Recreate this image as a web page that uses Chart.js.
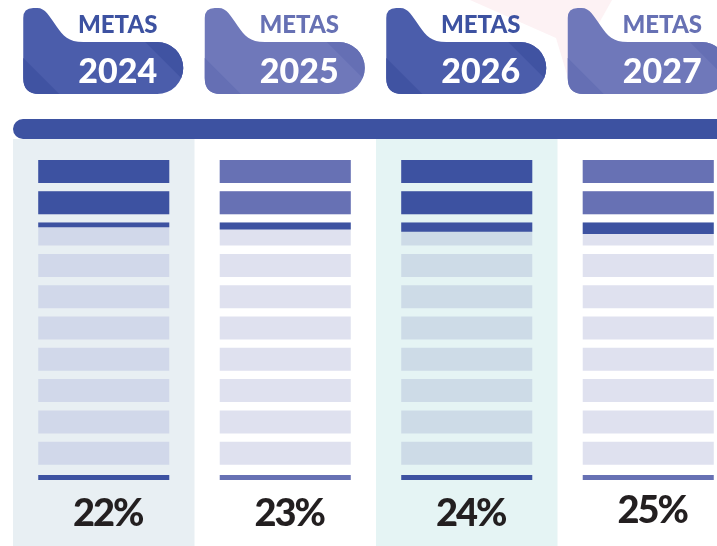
<!DOCTYPE html>
<html><head><meta charset="utf-8">
<script src="https://cdn.jsdelivr.net/npm/chart.js@4"></script>
<style>
html,body{margin:0;padding:0;background:#fff;overflow:hidden;width:717px;height:546px}
#wrap{position:relative;width:740px;height:546px}
canvas{display:block}
</style></head>
<body><div id="wrap"><canvas id="c" width="740" height="546"></canvas></div>
<script>
// ---- data ----
const years = ['2024', '2025', '2026', '2027'];
const tabTitles = ['METAS', 'METAS', 'METAS', 'METAS'];
const metas = [22, 23, 24, 25];            // target percentage per year
const segmentCount = 10;                   // gauge split into 10 blocks of 10 %
const segmentStep = 10;
const gaugeMax = 100;

// ---- styles ----
const dark = '#3d52a1', light = '#6771b4';
const colColor = [dark, light, dark, light];
const partialColor = dark;
const trackColor = ['#d1d8ea', '#dfe1ef', '#cddbe7', '#dfe1ef'];
const colBg = ['#e8eff3', null, '#e5f4f4', null];
const tabColor = ['#4b5dab', '#6f78ba', '#4b5dab', '#6f78ba'];
const tabShade = ['#4053a2', '#656fb4', '#4053a2', '#656fb4'];
const SEG_FILL = 7.35; // visible height of a block, in value units (gap is the rest)

// ---- datasets built from the data ----
const fillSets = [];
const trackSets = [];
for (let i = 0; i < segmentCount; i++) {
  const lo = i * segmentStep;
  fillSets.push({
    label: 'fill' + i,
    data: metas.map(v => {
      const f = Math.max(0, Math.min(1, (v - lo) / segmentStep));
      return f > 0 ? [lo, lo + f * SEG_FILL] : null;
    }),
    backgroundColor: metas.map((v, k) => ((v - lo) >= segmentStep ? colColor[k] : partialColor)),
    order: 0
  });
  trackSets.push({
    label: 'track' + i,
    data: metas.map(() => [lo, lo + SEG_FILL]),
    backgroundColor: trackColor,
    order: 2
  });
}
const baseLine = {
  label: 'base',
  data: metas.map(() => [gaugeMax + 0.6, gaugeMax + 2.2]),
  backgroundColor: colColor,
  order: 1
};

const decor = {
  id: 'decor',
  beforeDraw(chart) {
    const ctx = chart.ctx;
    ctx.save();
    ctx.fillStyle = '#ffffff';
    ctx.fillRect(0, 0, chart.width, chart.height);
    // faint background shape
    ctx.fillStyle = '#fdf2f4';
    ctx.beginPath();
    ctx.moveTo(470, 0); ctx.lineTo(612, 0); ctx.lineTo(568, 78); ctx.lineTo(556, 38);
    ctx.closePath(); ctx.fill();
    ctx.restore();
  },
  beforeDatasetsDraw(chart) {
    const ctx = chart.ctx;
    const xs = chart.scales.x;
    const cw = xs.width / years.length;
    ctx.save();
    // column backgrounds
    years.forEach((y, i) => {
      if (!colBg[i]) return;
      const cx = xs.getPixelForValue(i);
      ctx.fillStyle = colBg[i];
      ctx.fillRect(cx - cw / 2, 139, cw, chart.height - 139);
    });
    // header bar
    ctx.fillStyle = dark;
    ctx.beginPath();
    ctx.roundRect(xs.left, 119, chart.width, 20, [10, 0, 0, 10]);
    ctx.fill();
    // tabs
    years.forEach((yr, i) => {
      const cx = xs.getPixelForValue(i);
      const L = cx - 80.5, R = L + 160, T = 8, B = 94;
      const p = new Path2D();
      p.moveTo(L, T + 10);
      p.quadraticCurveTo(L, T, L + 10, T);
      p.lineTo(L + 14, T);
      p.bezierCurveTo(L + 22, T, L + 26, T + 8, L + 33, T + 18);
      p.bezierCurveTo(L + 40, T + 28, L + 45, T + 34, L + 60, T + 34);
      p.lineTo(R - 26, T + 34);
      p.arc(R - 26, (T + 34 + B) / 2, (B - T - 34) / 2, -Math.PI / 2, Math.PI / 2);
      p.lineTo(L + 16, B);
      p.quadraticCurveTo(L, B, L, B - 16);
      p.closePath();
      ctx.fillStyle = tabColor[i];
      ctx.fill(p);
      ctx.save();
      ctx.clip(p);
      ctx.fillStyle = tabShade[i];
      ctx.beginPath();
      ctx.moveTo(L - 2, 56); ctx.lineTo(L + 38, B + 2); ctx.lineTo(L - 2, B + 2); ctx.closePath(); ctx.fill();
      ctx.beginPath();
      ctx.moveTo(R - 40, 40); ctx.lineTo(R + 4, 40); ctx.lineTo(R + 4, 84); ctx.closePath(); ctx.fill();
      ctx.restore();
      ctx.textAlign = 'center';
      ctx.textBaseline = 'alphabetic';
      ctx.fillStyle = colColor[i];
      ctx.font = '900 24px Lato, "Open Sans", sans-serif';
      ctx.fillText(tabTitles[i], cx + 14, 33);
      ctx.fillStyle = '#ffffff';
      ctx.font = '900 34px Lato, "Open Sans", sans-serif';
      ctx.fillText(yr, cx + 14, 83);
    });
    ctx.restore();
  },
  afterDraw(chart) {
    const ctx = chart.ctx;
    const xs = chart.scales.x;
    ctx.save();
    ctx.fillStyle = '#231f20';
    ctx.font = '900 38px Lato, "Open Sans", sans-serif';
    if ('letterSpacing' in ctx) ctx.letterSpacing = '-2px';
    ctx.textAlign = 'center';
    ctx.textBaseline = 'alphabetic';
    metas.forEach((v, i) => {
      const cx = xs.getPixelForValue(i);
      ctx.fillText(v + '%', cx + 4, i === 3 ? 523 : 526);
    });
    ctx.restore();
  }
};

new Chart(document.getElementById('c'), {
  type: 'bar',
  data: { labels: years, datasets: [...fillSets, baseLine, ...trackSets] },
  options: {
    responsive: false,
    animation: false,
    devicePixelRatio: 1,
    events: [],
    layout: { padding: { left: 13, right: 1, top: 160, bottom: 546 - 160 - 110 * 3.13 } },
    datasets: { bar: { barPercentage: 0.722, categoryPercentage: 1, borderWidth: 0, borderSkipped: false } },
    scales: {
      x: { display: false, stacked: true, offset: true },
      y: { display: false, stacked: false, min: 0, max: 110, reverse: true }
    },
    plugins: { legend: { display: false }, tooltip: { enabled: false }, title: { display: false } }
  },
  plugins: [decor]
});
</script>
</body></html>
